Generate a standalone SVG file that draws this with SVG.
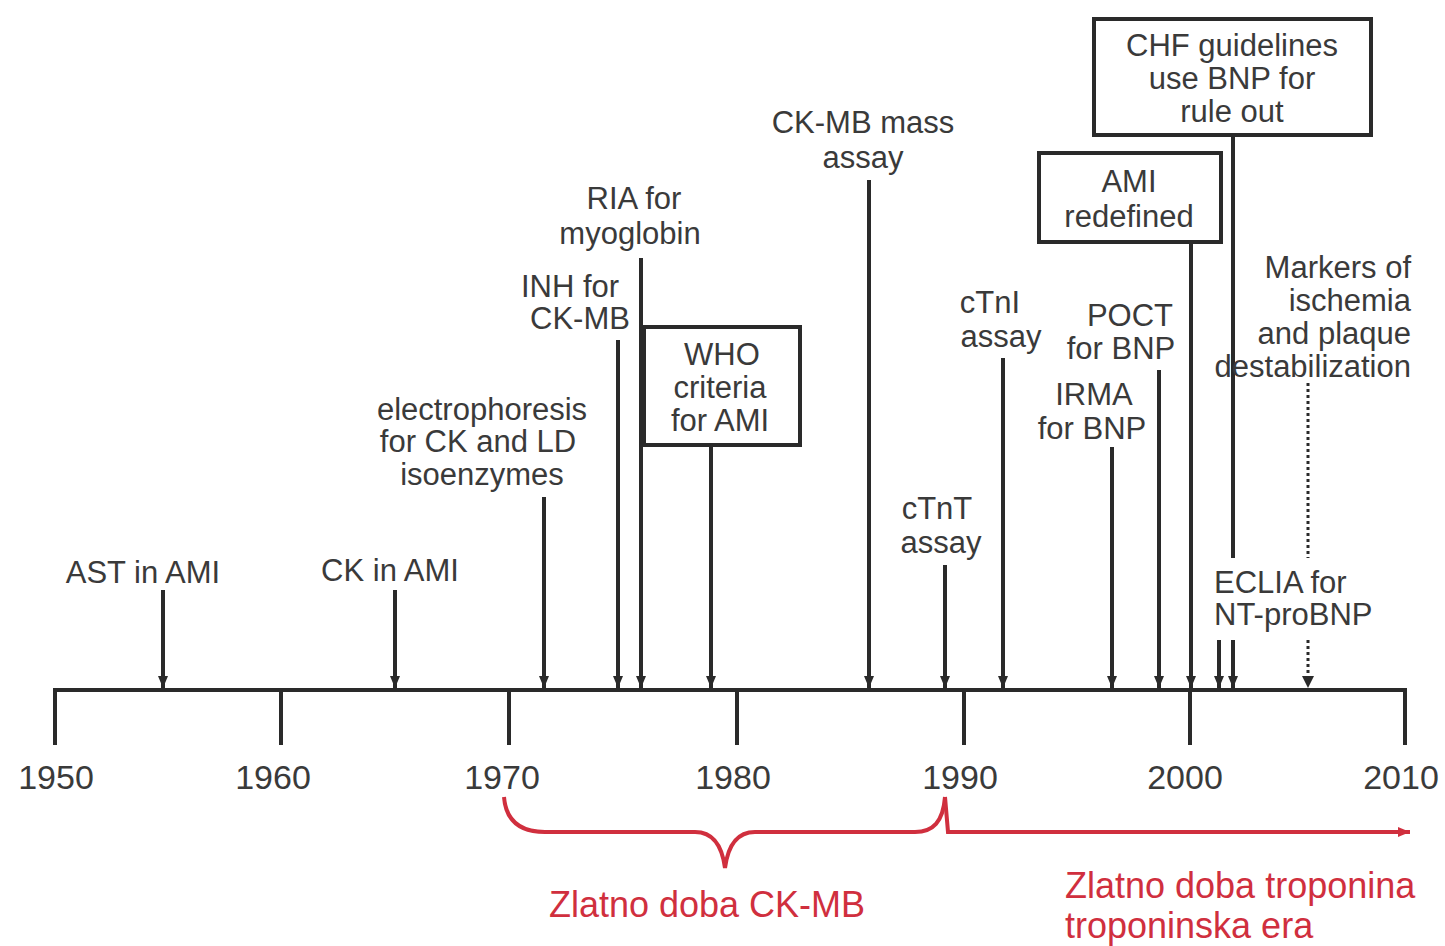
<svg xmlns="http://www.w3.org/2000/svg" width="1445" height="946" viewBox="0 0 1445 946">
<defs>
<style>
text{font-family:"Liberation Sans",Arial,sans-serif;fill:#3a3a3a;font-size:31px}
.m{text-anchor:middle}
.e{text-anchor:end}
.yr{font-size:34px;text-anchor:middle}
.red{fill:#d02f3e;font-size:36px}
.ln{stroke:#2a2a2a;stroke-width:4;fill:none}
.ar{stroke:#2a2a2a;stroke-width:4;fill:none;marker-end:url(#ah)}
.dt{stroke:#2a2a2a;stroke-width:3;fill:none;stroke-dasharray:3 3}
.box{fill:#fff;stroke:#2a2a2a;stroke-width:4}
.rl{stroke:#d02f3e;stroke-width:4;fill:none}
</style>
<marker id="ah" viewBox="0 0 12 10" refX="12" refY="5" markerWidth="12" markerHeight="10" markerUnits="userSpaceOnUse" orient="auto">
<path d="M0,0 L12,5 L0,10 z" fill="#2a2a2a"/>
</marker>
<marker id="rah" viewBox="0 0 12 10" refX="12" refY="5" markerWidth="12" markerHeight="10" markerUnits="userSpaceOnUse" orient="auto">
<path d="M0,0 L12,5 L0,10 z" fill="#d02f3e"/>
</marker>
</defs>
<rect width="1445" height="946" fill="#fff"/>

<g id="axis">
<path class="ln" d="M55,745 V690 H1405 V745 M281,690 V745 M509,690 V745 M737,690 V745 M964,690 V745 M1190,690 V745"/>
<text class="yr" x="56" y="789">1950</text>
<text class="yr" x="273" y="789">1960</text>
<text class="yr" x="502" y="789">1970</text>
<text class="yr" x="733" y="789">1980</text>
<text class="yr" x="960" y="789">1990</text>
<text class="yr" x="1185" y="789">2000</text>
<text class="yr" x="1401" y="789">2010</text>
</g>

<g id="connectors">
<line class="ar" x1="163" y1="590" x2="163" y2="688"/>
<line class="ar" x1="395" y1="590" x2="395" y2="688"/>
<line class="ar" x1="544" y1="497" x2="544" y2="688"/>
<line class="ar" x1="618" y1="340" x2="618" y2="688"/>
<line class="ar" x1="641" y1="258" x2="641" y2="688"/>
<line class="ar" x1="711" y1="445" x2="711" y2="688"/>
<line class="ar" x1="869" y1="180" x2="869" y2="688"/>
<line class="ar" x1="945" y1="565" x2="945" y2="688"/>
<line class="ar" x1="1003" y1="358" x2="1003" y2="688"/>
<line class="ar" x1="1112" y1="447" x2="1112" y2="688"/>
<line class="ar" x1="1159" y1="370" x2="1159" y2="688"/>
<line class="ar" x1="1191" y1="243" x2="1191" y2="688"/>
<line class="ln" x1="1233" y1="136" x2="1233" y2="558"/>
<line class="ar" x1="1219" y1="640" x2="1219" y2="688"/>
<line class="ar" x1="1233" y1="640" x2="1233" y2="688"/>
<line class="dt" x1="1308" y1="383" x2="1308" y2="558"/>
<line class="dt" x1="1308" y1="640" x2="1308" y2="678"/>
<path d="M1302,676 L1314,676 L1308,688 z" fill="#2a2a2a"/>
</g>

<g id="n-ast"><text class="m" x="143" y="583">AST in AMI</text></g>
<g id="n-ck"><text class="m" x="390" y="581">CK in AMI</text></g>
<g id="n-electro">
<text class="m" x="482" y="420">electrophoresis</text>
<text class="m" x="478" y="452">for CK and LD</text>
<text class="m" x="482" y="485">isoenzymes</text>
</g>
<g id="n-inh">
<text class="m" x="570" y="297">INH for</text>
<text class="m" x="580" y="329">CK-MB</text>
</g>
<g id="n-ria">
<text class="m" x="634" y="209">RIA for</text>
<text class="m" x="630" y="244">myoglobin</text>
</g>
<g id="n-who">
<rect class="box" x="644" y="327" width="156" height="118"/>
<text class="m" x="722" y="365">WHO</text>
<text class="m" x="720" y="398">criteria</text>
<text class="m" x="720" y="431">for AMI</text>
</g>
<g id="n-ckmbmass">
<text class="m" x="863" y="133">CK-MB mass</text>
<text class="m" x="863" y="168">assay</text>
</g>
<g id="n-ctnt">
<text class="m" x="937" y="519">cTnT</text>
<text class="m" x="941" y="553">assay</text>
</g>
<g id="n-ctni">
<text class="m" x="990" y="313">cTnI</text>
<text class="m" x="1001" y="347">assay</text>
</g>
<g id="n-poct">
<text class="m" x="1130" y="326">POCT</text>
<text class="m" x="1121" y="359">for BNP</text>
</g>
<g id="n-irma">
<text class="m" x="1094" y="405">IRMA</text>
<text class="m" x="1092" y="439">for BNP</text>
</g>
<g id="n-amired">
<rect class="box" x="1039" y="153" width="182" height="89"/>
<text class="m" x="1129" y="192">AMI</text>
<text class="m" x="1129" y="227">redefined</text>
</g>
<g id="n-chf">
<rect class="box" x="1094" y="19" width="277" height="116"/>
<text class="m" x="1232" y="56">CHF guidelines</text>
<text class="m" x="1232" y="89">use BNP for</text>
<text class="m" x="1232" y="122">rule out</text>
</g>
<g id="n-markers">
<text class="e" x="1411" y="278">Markers of</text>
<text class="e" x="1411" y="311">ischemia</text>
<text class="e" x="1411" y="344">and plaque</text>
<text class="e" x="1411" y="377">destabilization</text>
</g>
<g id="n-eclia">
<text x="1214" y="593">ECLIA for</text>
<text x="1214" y="625">NT-proBNP</text>
</g>

<g id="eras">
<path class="rl" d="M504,797 C506,822 522,832 545,832 L695,832 C712,832 722,845 725,868 C728,845 738,832 755,832 L915,832 C933,832 943,822 945,797"/>
<path class="rl" style="marker-end:url(#rah)" d="M945,797 L948,832 L1410,832"/>
<text class="red m" x="707" y="917">Zlatno doba CK-MB</text>
<text class="red" x="1065" y="898">Zlatno doba troponina</text>
<text class="red" x="1065" y="938">troponinska era</text>
</g>
</svg>
